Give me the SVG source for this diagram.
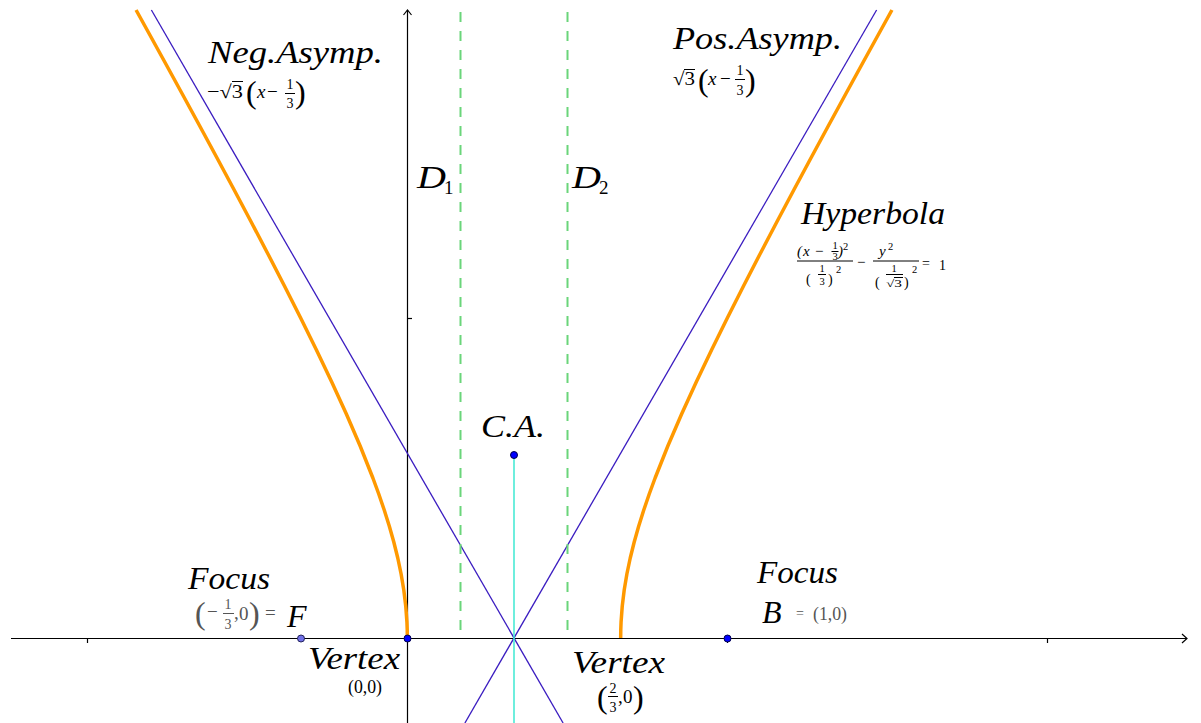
<svg xmlns="http://www.w3.org/2000/svg" width="1201" height="723" viewBox="0 0 1201 723">
<style>
.lbl{font-family:"Liberation Serif","DejaVu Serif",serif;font-style:italic;font-size:32px;fill:#000}
.m{font-family:"Liberation Serif","DejaVu Serif",serif;font-size:19px;fill:#000}
.mi{font-family:"Liberation Serif","DejaVu Serif",serif;font-style:italic;font-size:19px;fill:#000}
.s{font-family:"Liberation Serif","DejaVu Serif",serif;font-size:14px;fill:#000}
.si{font-family:"Liberation Serif","DejaVu Serif",serif;font-style:italic;font-size:15px;fill:#000}
.t{font-family:"Liberation Serif","DejaVu Serif",serif;font-size:10.5px;fill:#000}
.p{font-family:"Liberation Serif","DejaVu Serif",serif;font-size:32px;fill:#000}
.g{fill:#555}
.bar{stroke:#000;stroke-width:1}
.gbar{stroke:#555;stroke-width:1}
.axis{stroke:#000;stroke-width:1.2;fill:none}
.asym{stroke:#3a1cc0;stroke-width:1.3;fill:none}
.dir{stroke:#6ad57a;stroke-width:2;stroke-dasharray:10 9;fill:none}
.hyp{stroke:#ff9900;stroke-width:3.5;fill:none;stroke-linejoin:round}
.pt{fill:#0000ff;stroke:#00004a;stroke-width:1}
</style>
<rect width="1201" height="723" fill="#fff"/>

<g id="axes">
<line class="axis" x1="11" y1="638.5" x2="1187" y2="638.5"/>
<polyline class="axis" points="1182,634 1187,638.5 1182,643"/>
<line class="axis" x1="407.5" y1="723" x2="407.5" y2="10"/>
<polyline class="axis" points="403.5,15 407.5,10 411.5,15"/>
<line class="axis" x1="87.5" y1="638.5" x2="87.5" y2="643"/>
<line class="axis" x1="727.5" y1="638.5" x2="727.5" y2="643"/>
<line class="axis" x1="1047.5" y1="638.5" x2="1047.5" y2="643"/>
<line class="axis" x1="407.5" y1="318.5" x2="412" y2="318.5"/>
</g>

<g id="connectors">
<line id="pos-asym" class="asym" x1="464.9" y1="723" x2="876.6" y2="10"/>
<line id="neg-asym" class="asym" x1="563.1" y1="723" x2="151.4" y2="10"/>
<line id="D1-line" class="dir" x1="460.5" y1="12" x2="460.5" y2="638"/>
<line id="D2-line" class="dir" x1="567.5" y1="12" x2="567.5" y2="638"/>
<line id="conj-axis" x1="514" y1="455" x2="514" y2="723" stroke="#3ee8d2" stroke-width="1.5"/>
</g>

<g id="hyperbola">
<polyline class="hyp" points="620.67,638 620.77,630 621.07,622 622.26,606 624.21,590 626.89,574 630.24,558 634.21,542 638.74,526 643.77,510 649.24,494 655.11,478 667.84,446 681.64,414 696.27,382 711.55,350 727.33,318 743.52,286 760.03,254 776.8,222 793.79,190 810.95,158 828.26,126 845.7,94 863.24,62 880.88,30 891.94,10"/>
<polyline class="hyp" points="407.33,638 407.23,630 406.93,622 405.74,606 403.79,590 401.11,574 397.76,558 393.79,542 389.26,526 384.23,510 378.76,494 372.89,478 360.16,446 346.36,414 331.73,382 316.45,350 300.67,318 284.48,286 267.97,254 251.2,222 234.21,190 217.05,158 199.74,126 182.3,94 164.76,62 147.12,30 136.06,10"/>
<text class="lbl" x="801" y="224" textLength="144" lengthAdjust="spacingAndGlyphs">Hyperbola</text>
<text class="si" x="797" y="256" font-style="normal">(</text>
<text class="si" x="803" y="256">x</text>
<text class="si" x="814" y="256" font-style="normal">−</text>
<text class="t" x="835" y="249" text-anchor="middle">1</text>
<line class="bar" x1="831.5" y1="251.5" x2="838.5" y2="251.5"/>
<text class="t" x="835" y="260" text-anchor="middle">3</text>
<text class="si" x="838" y="256" font-style="normal">)</text>
<text class="t" x="843" y="250">2</text>
<line class="bar" x1="797" y1="261" x2="853" y2="261"/>
<text class="s" x="806" y="284" font-size="22px">(</text>
<text class="t" x="822" y="272" text-anchor="middle">1</text>
<line class="bar" x1="818" y1="274.5" x2="826" y2="274.5"/>
<text class="t" x="822" y="285" text-anchor="middle">3</text>
<text class="s" x="828" y="284" font-size="22px">)</text>
<text class="t" x="836" y="273">2</text>
<text class="si" x="856" y="267" font-style="normal">−</text>
<text class="si" x="879" y="256">y</text>
<text class="t" x="888" y="250">2</text>
<line class="bar" x1="873" y1="261" x2="919" y2="261"/>
<text class="s" x="875" y="287" font-size="24px">(</text>
<text class="t" x="894" y="272" text-anchor="middle">1</text>
<line class="bar" x1="886" y1="274.5" x2="903" y2="274.5"/>
<text class="t" x="886" y="287" textLength="16" lengthAdjust="spacingAndGlyphs">√3</text>
<line class="bar" x1="894" y1="277.5" x2="903" y2="277.5"/>
<text class="s" x="904" y="287" font-size="24px">)</text>
<text class="t" x="912" y="273">2</text>
<text class="s" x="922" y="268" font-size="16px">=</text>
<text class="s" x="939" y="270" font-size="16px">1</text>
</g>

<g id="neg-asymp-label">
<text class="lbl" x="208" y="63" textLength="175" lengthAdjust="spacingAndGlyphs">Neg.Asymp.</text>
<text class="m" x="207" y="98" textLength="36" lengthAdjust="spacingAndGlyphs">−√3</text>
<line class="bar" x1="232" y1="81.5" x2="243" y2="81.5"/>
<text class="p" x="246" y="103">(</text>
<text class="mi" x="257" y="98">x</text>
<text class="m" x="267" y="98">−</text>
<text class="s" x="290" y="89" text-anchor="middle">1</text>
<line class="bar" x1="285" y1="93.5" x2="295" y2="93.5"/>
<text class="s" x="290" y="108" text-anchor="middle">3</text>
<text class="p" x="295" y="103">)</text>
</g>

<g id="pos-asymp-label">
<text class="lbl" x="673" y="49" textLength="169" lengthAdjust="spacingAndGlyphs">Pos.Asymp.</text>
<text class="m" x="673" y="85" textLength="22" lengthAdjust="spacingAndGlyphs">√3</text>
<line class="bar" x1="684" y1="69.5" x2="695" y2="69.5"/>
<text class="p" x="698" y="91">(</text>
<text class="mi" x="708" y="85">x</text>
<text class="m" x="720" y="85">−</text>
<text class="s" x="740" y="75" text-anchor="middle">1</text>
<line class="bar" x1="735" y1="79.5" x2="745" y2="79.5"/>
<text class="s" x="740" y="95" text-anchor="middle">3</text>
<text class="p" x="745" y="91">)</text>
</g>

<g id="D1">
<text class="lbl" x="417" y="188" textLength="29" lengthAdjust="spacingAndGlyphs">D</text>
<text class="m" x="444" y="194">1</text>
</g>
<g id="D2">
<text class="lbl" x="572" y="188" textLength="29" lengthAdjust="spacingAndGlyphs">D</text>
<text class="m" x="599" y="194">2</text>
</g>

<g id="CA">
<circle class="pt" cx="514" cy="455" r="3.5"/>
<text class="lbl" x="481" y="437" textLength="64" lengthAdjust="spacingAndGlyphs">C.A.</text>
</g>

<g id="focus-F">
<circle cx="301" cy="638.5" r="3.5" fill="#7070e8" stroke="#22225a" stroke-width="1"/>
<text class="lbl" x="188" y="589" textLength="82" lengthAdjust="spacingAndGlyphs">Focus</text>
<text class="p g" x="195" y="624" font-size="28px">(</text>
<text class="m g" x="207" y="618" font-size="16px">−</text>
<text class="s g" x="228" y="609" text-anchor="middle">1</text>
<line class="gbar" x1="223" y1="613.5" x2="234" y2="613.5"/>
<text class="s g" x="228" y="629" text-anchor="middle">3</text>
<text class="m g" x="234" y="619" font-size="16px">,</text>
<text class="m g" x="239" y="620" font-size="16px">0</text>
<text class="p g" x="249" y="624" font-size="28px">)</text>
<text class="m g" x="265" y="619" font-size="16px">=</text>
<text class="lbl" x="287" y="627">F</text>
</g>

<g id="vertex-left">
<circle class="pt" cx="407.5" cy="638.5" r="3.5"/>
<text class="lbl" x="308" y="669" textLength="92" lengthAdjust="spacingAndGlyphs">Vertex</text>
<text class="m" x="348" y="693" font-size="15px" textLength="34" lengthAdjust="spacingAndGlyphs">(0,0)</text>
</g>

<g id="vertex-right">
<text class="lbl" x="572" y="673" textLength="93" lengthAdjust="spacingAndGlyphs">Vertex</text>
<text class="p" x="597" y="708" font-size="28px">(</text>
<text class="s" x="613" y="693" text-anchor="middle">2</text>
<line class="bar" x1="608" y1="696.5" x2="618" y2="696.5"/>
<text class="s" x="613" y="712" text-anchor="middle">3</text>
<text class="m" x="618" y="703" font-size="16px">,</text>
<text class="m" x="623" y="703" font-size="16px">0</text>
<text class="p" x="633" y="708" font-size="28px">)</text>
</g>

<g id="focus-B">
<circle class="pt" cx="727.5" cy="638.5" r="3.5"/>
<text class="lbl" x="757" y="583" textLength="81" lengthAdjust="spacingAndGlyphs">Focus</text>
<text class="lbl" x="762" y="623">B</text>
<text class="s g" x="796" y="618">=</text>
<text class="m g" x="813" y="620" font-size="16px" textLength="34" lengthAdjust="spacingAndGlyphs">(1,0)</text>
</g>
</svg>
